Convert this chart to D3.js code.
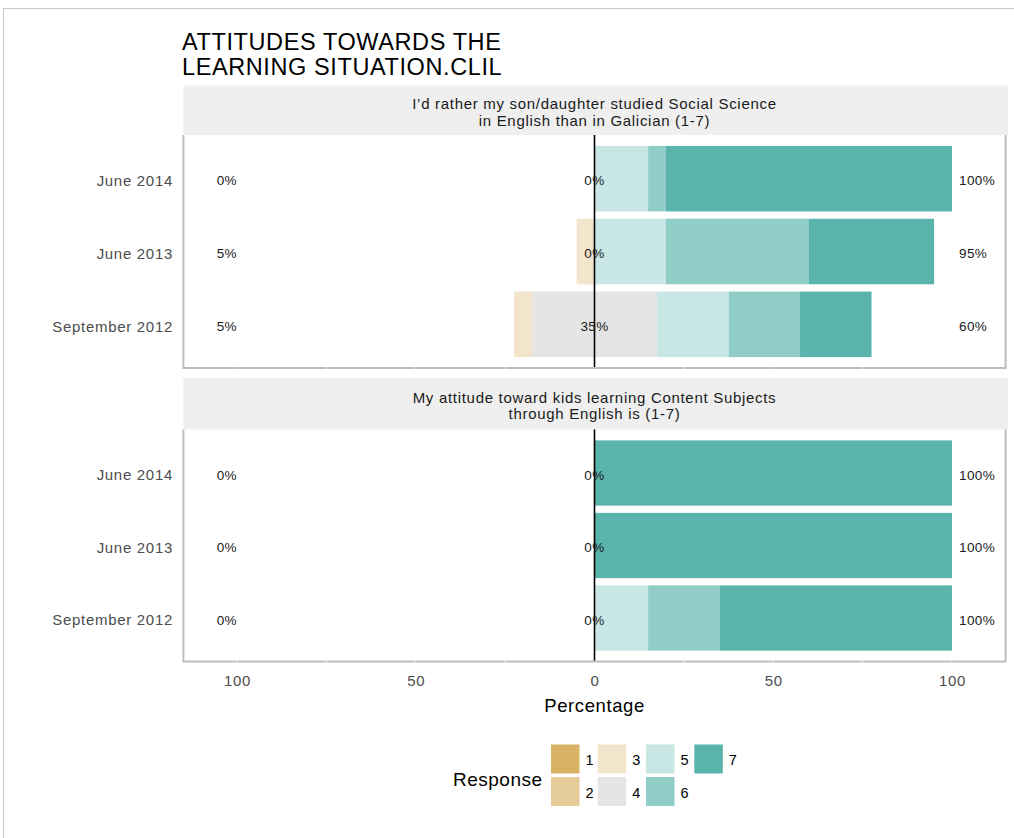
<!DOCTYPE html>
<html><head><meta charset="utf-8">
<script src="https://cdn.jsdelivr.net/npm/d3@7"></script>
<style>
html,body{margin:0;padding:0;background:#fff;}
svg{display:block;font-family:"Liberation Sans",Arial,sans-serif;}
</style></head>
<body>
<svg id="chart" width="1014" height="838"></svg>
<script>
// ---------------- data ----------------
const chartTitle = ["ATTITUDES TOWARDS THE", "LEARNING SITUATION.CLIL"];
const categories = ["June 2014", "June 2013", "September 2012"];
const responses = ["1", "2", "3", "4", "5", "6", "7"];
const colors = ["#D8B365", "#E5CC98", "#F2E5CB", "#E5E5E5", "#C8E6E3", "#91CDC7", "#5AB4AC"];
const panelTitles = [
  ["I\u2019d rather my son/daughter studied Social Science", "in English than in Galician (1-7)"],
  ["My attitude toward kids learning Content Subjects", "through English is (1-7)"]
];
// percentages per response 1..7
const q1_june2014 = [0, 0, 0, 0, 15, 5, 80];
const q1_june2013 = [0, 0, 5, 0, 20, 40, 35];
const q1_sep2012  = [0, 0, 5, 35, 20, 20, 20];
const q2_june2014 = [0, 0, 0, 0, 0, 0, 100];
const q2_june2013 = [0, 0, 0, 0, 0, 0, 100];
const q2_sep2012  = [0, 0, 0, 0, 15, 20, 65];
const tickValues = [-100, -50, 0, 50, 100];
const tickLabels = ["100", "50", "0", "50", "100"];
const xLabel = "Percentage";
const legendTitle = "Response";

const panels = [
  { title: panelTitles[0], rows: [q1_june2014, q1_june2013, q1_sep2012] },
  { title: panelTitles[1], rows: [q2_june2014, q2_june2013, q2_sep2012] }
];

// ---------------- layout ----------------
const svg = d3.select("#chart");
const left = 183.4, right = 1005.6;
const x = d3.scaleLinear().domain([-115, 115]).range([left, right]);
const panelBoxes = [
  { stripTop: 85.5, stripBottom: 135, bottom: 368 },
  { stripTop: 378, stripBottom: 429.5, bottom: 661.5 }
];

// screenshot frame
svg.append("line").attr("x1", 3).attr("x2", 1014).attr("y1", 8.5).attr("y2", 8.5).attr("stroke", "#c8c8c8");
svg.append("line").attr("x1", 3.5).attr("x2", 3.5).attr("y1", 8.5).attr("y2", 838).attr("stroke", "#c8c8c8");

// title
chartTitle.forEach((t, i) => {
  svg.append("text").attr("x", 182).attr("y", 50 + i * 25)
    .attr("font-size", 23.5).attr("letter-spacing", 0.6).attr("fill", "#000").text(t);
});

panels.forEach((p, pi) => {
  const box = panelBoxes[pi];
  const g = svg.append("g");
  // strip
  g.append("rect").attr("x", left).attr("y", box.stripTop).attr("width", 1008 - left)
    .attr("height", box.stripBottom - box.stripTop).attr("fill", "#efefef");
  p.title.forEach((t, i) => {
    g.append("text").attr("x", (left + right) / 2).attr("y", (box.stripTop + box.stripBottom) / 2 - 1 + i * 16.5)
      .attr("text-anchor", "middle").attr("font-size", 15).attr("letter-spacing", 0.7)
      .attr("fill", "#1a1a1a").text(t);
  });

  const y = d3.scaleBand().domain(categories).range([box.stripBottom, box.bottom])
    .paddingInner(0.1).paddingOuter(0.15);

  // bars
  p.rows.forEach((vals, ri) => {
    const cat = categories[ri];
    const neutral = vals[3];
    const segs = [];
    let pos = -neutral / 2;
    for (let k = 2; k >= 0; k--) { segs.push({ k, x0: pos - vals[k], x1: pos }); pos -= vals[k]; }
    segs.push({ k: 3, x0: -neutral / 2, x1: neutral / 2 });
    pos = neutral / 2;
    for (let k = 4; k <= 6; k++) { segs.push({ k, x0: pos, x1: pos + vals[k] }); pos += vals[k]; }
    g.selectAll(null).data(segs.filter(s => s.x1 > s.x0)).enter().append("rect")
      .attr("x", s => x(s.x0)).attr("width", s => x(s.x1) - x(s.x0))
      .attr("y", y(cat)).attr("height", y.bandwidth())
      .attr("fill", s => colors[s.k]);
  });

  // zero line
  g.append("line").attr("x1", x(0)).attr("x2", x(0)).attr("y1", box.stripBottom).attr("y2", box.bottom)
    .attr("stroke", "#000").attr("stroke-width", 1.6);

  // labels
  p.rows.forEach((vals, ri) => {
    const cat = categories[ri];
    const cy = y(cat) + y.bandwidth() / 2 + 2;
    const low = d3.sum(vals.slice(0, 3)), mid = vals[3], high = d3.sum(vals.slice(4));
    const fs = 13.5, col = "#1a1a1a", ls = 0.4;
    g.append("text").attr("x", x(-100)).attr("y", cy).attr("dy", "0.35em").attr("text-anchor", "end")
      .attr("font-size", fs).attr("letter-spacing", ls).attr("fill", col).text(low + "%");
    g.append("text").attr("x", x(0)).attr("y", cy).attr("dy", "0.35em").attr("text-anchor", "middle")
      .attr("font-size", fs).attr("letter-spacing", ls).attr("fill", col).text(mid + "%");
    g.append("text").attr("x", x(100) + 7).attr("y", cy).attr("dy", "0.35em").attr("text-anchor", "start")
      .attr("font-size", fs).attr("letter-spacing", ls).attr("fill", col).text(high + "%");
    // y axis label
    g.append("text").attr("x", 173).attr("y", cy).attr("dy", "0.35em").attr("text-anchor", "end")
      .attr("font-size", 15).attr("letter-spacing", 0.7).attr("fill", "#4d4d4d").text(cat);
  });

  // border (left, bottom, right)
  g.append("path")
    .attr("d", `M${left},${box.stripBottom} L${left},${box.bottom} L${right},${box.bottom} L${right},${box.stripBottom}`)
    .attr("fill", "none").attr("stroke", "#bdbdbd").attr("stroke-width", 2);
  // grid notches
  d3.range(-100, 101, 25).filter(v => v !== 0).forEach(v => {
    g.append("line").attr("x1", x(v)).attr("x2", x(v)).attr("y1", box.bottom - 1).attr("y2", box.bottom + 1)
      .attr("stroke", "#fff").attr("stroke-width", 0.8);
  });
});

// x axis
const axis = d3.axisBottom(x).tickValues(tickValues).tickSize(0).tickPadding(0)
  .tickFormat((d, i) => tickLabels[i]);
const ax = svg.append("g").attr("transform", "translate(0,675)").call(axis);
ax.select(".domain").remove();
ax.selectAll("text").attr("font-size", 15).attr("letter-spacing", 0.7).attr("fill", "#4d4d4d")
  .attr("font-family", "Liberation Sans,Arial,sans-serif").attr("dy", "0.71em");
svg.append("text").attr("x", (left + right) / 2).attr("y", 706).attr("dy", "0.35em")
  .attr("text-anchor", "middle").attr("font-size", 18.5).attr("letter-spacing", 0.6)
  .attr("fill", "#000").text(xLabel);

// legend
const lg = svg.append("g");
lg.append("text").attr("x", 453).attr("y", 779).attr("dy", "0.35em").attr("font-size", 19)
  .attr("letter-spacing", 0.5).attr("fill", "#000").text(legendTitle);
const colX = [551, 597.7, 646, 694.3];
responses.forEach((r, i) => {
  const col = Math.floor(i / 2), row = i % 2;
  const kx = colX[col], ky = 744.5 + row * 32.5;
  lg.append("rect").attr("x", kx).attr("y", ky).attr("width", 28.5).attr("height", 29)
    .attr("fill", colors[i]);
  lg.append("text").attr("x", kx + 34.5).attr("y", ky + 15.5).attr("dy", "0.35em")
    .attr("font-size", 14.5).attr("fill", "#000").text(r);
});
</script>
</body></html>
